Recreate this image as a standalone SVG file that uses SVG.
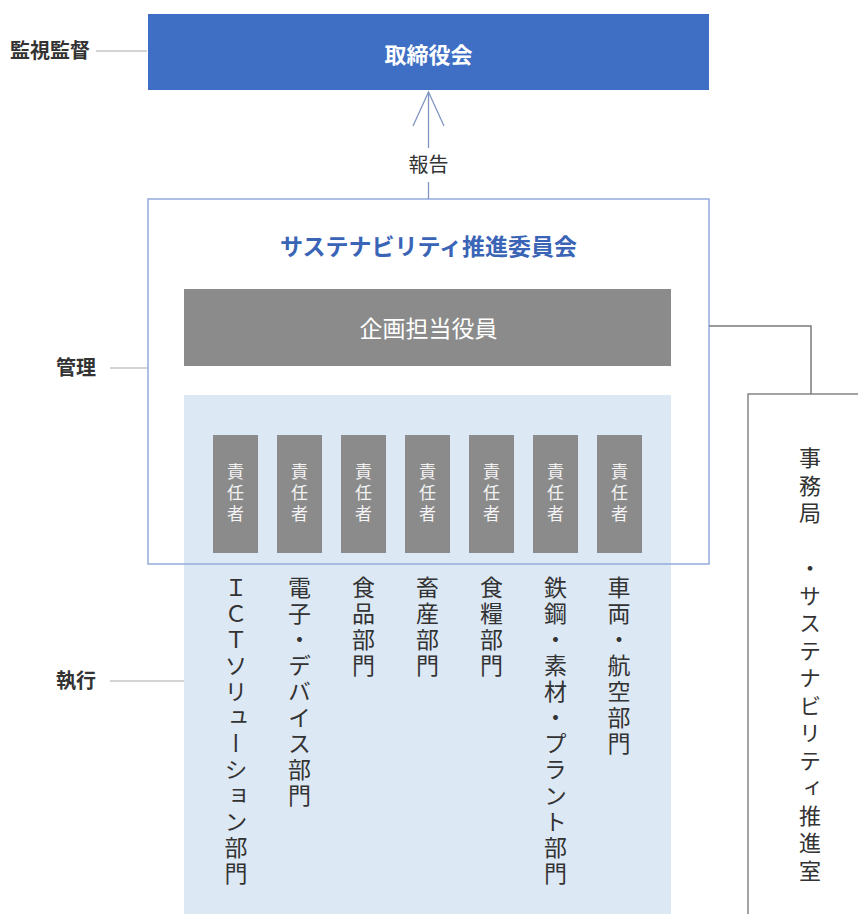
<svg xmlns="http://www.w3.org/2000/svg" width="858" height="914" viewBox="0 0 858 914">
<style>
text { font-family: "Noto Sans CJK JP", "Noto Sans CJK SC", sans-serif; }
.side { font-size: 20px; font-weight: 700; fill: #333; }
.guide { stroke: #a8a8a8; stroke-width: 1; fill: none; }
.conn { stroke: #8095c2; stroke-width: 1.3; fill: none; }
.gconn { stroke: #7a7a7a; stroke-width: 1.5; fill: none; }
.resp rect { fill: #8b8b8b; }
.resp text { font-size: 17px; fill: #f4f4f4; writing-mode: vertical-rl; letter-spacing: 4px; }
.dept { font-size: 23px; fill: #333; writing-mode: vertical-rl; letter-spacing: 3px; }
</style>

<g id="labels">
  <text class="side" x="10" y="58">監視監督</text>
  <line class="guide" x1="96" y1="51" x2="147" y2="51"/>
  <text class="side" x="56" y="375">管理</text>
  <line class="guide" x1="110" y1="368" x2="148" y2="368"/>
  <text class="side" x="56" y="688">執行</text>
  <line class="guide" x1="110" y1="681" x2="184" y2="681"/>
</g>

<g id="board">
  <rect x="148" y="14" width="561" height="76" fill="#3f6fc4"/>
  <text x="428.5" y="63" text-anchor="middle" font-size="22" font-weight="700" fill="#ffffff">取締役会</text>
</g>

<g id="committee">
  <rect x="148" y="199" width="561" height="365" fill="#ffffff"/>
  <text x="428.5" y="255" text-anchor="middle" font-size="23" font-weight="700" fill="#3a64b6">サステナビリティ推進委員会</text>
</g>

<g id="officer">
  <rect x="184" y="289" width="487" height="77" fill="#8b8b8b"/>
  <text x="428.5" y="337" text-anchor="middle" font-size="23" fill="#ffffff">企画担当役員</text>
</g>

<g id="execution">
  <rect x="184" y="395" width="487" height="519" fill="#dde8f5"/>
</g>

<g id="committee-frame">
  <rect x="148" y="199" width="561" height="365" fill="none" stroke="#93aadc" stroke-width="1.5"/>
</g>

<g id="resp1" class="resp"><rect x="213" y="435" width="45" height="118"/><text x="235.5" y="463">責任者</text></g>
<g id="resp2" class="resp"><rect x="277" y="435" width="45" height="118"/><text x="299.5" y="463">責任者</text></g>
<g id="resp3" class="resp"><rect x="341" y="435" width="45" height="118"/><text x="363.5" y="463">責任者</text></g>
<g id="resp4" class="resp"><rect x="405" y="435" width="45" height="118"/><text x="427.5" y="463">責任者</text></g>
<g id="resp5" class="resp"><rect x="469" y="435" width="45" height="118"/><text x="491.5" y="463">責任者</text></g>
<g id="resp6" class="resp"><rect x="533" y="435" width="45" height="118"/><text x="555.5" y="463">責任者</text></g>
<g id="resp7" class="resp"><rect x="597" y="435" width="45" height="118"/><text x="619.5" y="463">責任者</text></g>

<g id="departments">
  <text class="dept" x="236" y="576">ＩＣＴソリューション部門</text>
  <text class="dept" x="299.5" y="576">電子・デバイス部門</text>
  <text class="dept" x="363.5" y="576">食品部門</text>
  <text class="dept" x="427.5" y="576">畜産部門</text>
  <text class="dept" x="491.5" y="576">食糧部門</text>
  <text class="dept" x="555.5" y="576">鉄鋼・素材・プラント部門</text>
  <text class="dept" x="619" y="576">車両・航空部門</text>
</g>

<g id="secretariat">
  <rect x="748" y="394" width="130" height="540" fill="#ffffff" stroke="#858585" stroke-width="1.5"/>
  <text x="810" y="447" font-size="22" fill="#333" style="writing-mode: vertical-rl; letter-spacing: 5.5px;">事務局　・サステナビリティ推進室</text>
</g>

<g id="connectors">
  <line class="conn" x1="428.5" y1="199" x2="428.5" y2="182"/>
  <line class="conn" x1="428.5" y1="148" x2="428.5" y2="92"/>
  <polyline class="conn" points="413,126 428.5,92 444,126"/>
  <text x="428.5" y="172" text-anchor="middle" font-size="20" fill="#333">報告</text>
  <polyline class="gconn" points="709,326 811,326 811,394"/>
</g>
</svg>
